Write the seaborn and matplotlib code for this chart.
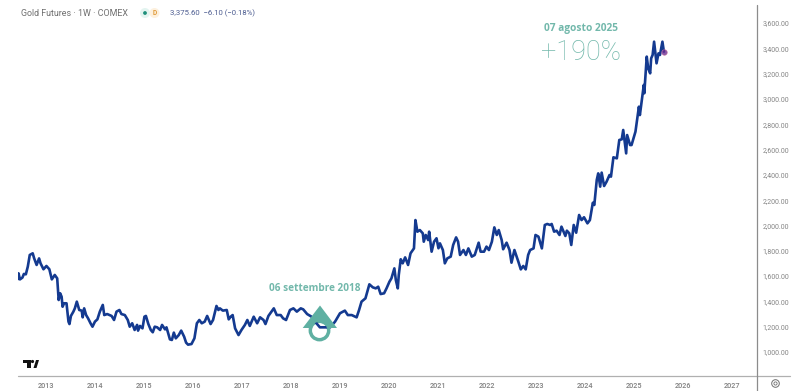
import matplotlib
matplotlib.use('Agg')
import matplotlib.pyplot as plt
from matplotlib.lines import Line2D
from matplotlib.patches import Ellipse, Polygon
import pandas as pd
import seaborn as sns

# valori (anno decimale, prezzo)
years = [2012.42, 2012.44, 2012.47, 2012.52, 2012.55, 2012.59, 2012.63, 2012.67, 2012.73, 2012.76, 2012.81, 2012.86,
         2012.89, 2012.95, 2013.01, 2013.07, 2013.12, 2013.18, 2013.23, 2013.26, 2013.29, 2013.32, 2013.34, 2013.37,
         2013.42, 2013.46, 2013.48, 2013.51, 2013.56, 2013.59, 2013.63, 2013.68, 2013.73, 2013.75, 2013.78, 2013.82,
         2013.86, 2013.91, 2013.95, 2014.00, 2014.05, 2014.10, 2014.16, 2014.19, 2014.25, 2014.34, 2014.39, 2014.44,
         2014.50, 2014.54, 2014.61, 2014.67, 2014.71, 2014.76, 2014.81, 2014.86, 2014.88, 2014.92, 2014.97, 2015.01,
         2015.04, 2015.09, 2015.14, 2015.18, 2015.22, 2015.27, 2015.33, 2015.37, 2015.43, 2015.46, 2015.53, 2015.57,
         2015.61, 2015.65, 2015.71, 2015.76, 2015.82, 2015.86, 2015.90, 2015.97, 2016.03, 2016.08, 2016.13, 2016.18,
         2016.24, 2016.29, 2016.36, 2016.41, 2016.48, 2016.52, 2016.55, 2016.61, 2016.69, 2016.73, 2016.77, 2016.81,
         2016.86, 2016.93, 2016.99, 2017.06, 2017.11, 2017.16, 2017.24, 2017.31, 2017.37, 2017.44, 2017.48, 2017.54,
         2017.65, 2017.71, 2017.79, 2017.84, 2017.90, 2017.98, 2018.05, 2018.12, 2018.20, 2018.25, 2018.33, 2018.42,
         2018.52, 2018.59, 2018.69, 2018.80, 2018.90, 2019.00, 2019.10, 2019.16, 2019.24, 2019.34, 2019.39, 2019.44,
         2019.52, 2019.60, 2019.67, 2019.73, 2019.78, 2019.83, 2019.90, 2019.95, 2020.01, 2020.05, 2020.11, 2020.14,
         2020.18, 2020.20, 2020.24, 2020.28, 2020.33, 2020.39, 2020.44, 2020.51, 2020.54, 2020.58, 2020.63, 2020.69,
         2020.71, 2020.75, 2020.80, 2020.82, 2020.87, 2020.92, 2020.97, 2021.01, 2021.04, 2021.10, 2021.14, 2021.19,
         2021.26, 2021.31, 2021.37, 2021.41, 2021.45, 2021.52, 2021.57, 2021.62, 2021.69, 2021.75, 2021.83, 2021.87,
         2021.94, 2021.99, 2022.04, 2022.10, 2022.15, 2022.20, 2022.24, 2022.30, 2022.33, 2022.40, 2022.46, 2022.50,
         2022.56, 2022.64, 2022.69, 2022.74, 2022.79, 2022.84, 2022.88, 2022.95, 2022.99, 2023.05, 2023.12, 2023.18,
         2023.23, 2023.29, 2023.32, 2023.37, 2023.42, 2023.48, 2023.52, 2023.60, 2023.63, 2023.68, 2023.72, 2023.77,
         2023.82, 2023.88, 2023.93, 2023.98, 2024.05, 2024.10, 2024.16, 2024.19, 2024.24, 2024.27, 2024.31, 2024.34,
         2024.39, 2024.44, 2024.50, 2024.53, 2024.58, 2024.65, 2024.70, 2024.75, 2024.78, 2024.84, 2024.86, 2024.92,
         2024.95, 2025.03, 2025.10, 2025.12, 2025.20, 2025.21, 2025.26, 2025.29, 2025.33, 2025.35, 2025.38, 2025.41,
         2025.46, 2025.50, 2025.53, 2025.58, 2025.61]
prices = [1574, 1622, 1574, 1588, 1617, 1614, 1675, 1767, 1780, 1740, 1688, 1740,
          1701, 1654, 1680, 1654, 1574, 1609, 1582, 1411, 1464, 1437, 1358, 1385,
          1385, 1240, 1221, 1285, 1319, 1345, 1398, 1332, 1327, 1274, 1345, 1292,
          1266, 1227, 1200, 1240, 1258, 1319, 1372, 1292, 1300, 1285, 1253, 1319,
          1332, 1300, 1292, 1253, 1200, 1227, 1174, 1214, 1169, 1206, 1187, 1279,
          1285, 1221, 1174, 1156, 1200, 1195, 1174, 1214, 1179, 1195, 1100, 1095,
          1153, 1108, 1134, 1169, 1121, 1074, 1058, 1063, 1108, 1227, 1253, 1227,
          1240, 1285, 1221, 1253, 1364, 1332, 1345, 1327, 1332, 1258, 1279, 1292,
          1187, 1134, 1174, 1214, 1253, 1206, 1279, 1227, 1274, 1253, 1221, 1285,
          1345, 1292, 1292, 1266, 1253, 1332, 1345, 1319, 1345, 1337, 1300, 1279,
          1227, 1195, 1195, 1195, 1240, 1306, 1327, 1292, 1292, 1274, 1332, 1398,
          1424, 1535, 1511, 1503, 1516, 1458, 1464, 1503, 1556, 1582, 1661, 1569,
          1503, 1609, 1733, 1701, 1748, 1688, 1780, 1819, 2043, 1951, 1964, 1938,
          1872, 1925, 1885, 1951, 1793, 1872, 1899, 1820, 1859, 1806, 1701, 1740,
          1754, 1846, 1906, 1872, 1767, 1806, 1767, 1819, 1754, 1767, 1864, 1793,
          1793, 1833, 1806, 1872, 1985, 1925, 1964, 1885, 1812, 1864, 1806, 1706,
          1806, 1714, 1653, 1680, 1653, 1767, 1806, 1819, 1925, 1912, 1819, 2004,
          2012, 2004, 2012, 1951, 1959, 1925, 1991, 1917, 1959, 1938, 1846, 2004,
          1943, 2083, 2043, 2065, 2017, 2043, 2180, 2162, 2360, 2412, 2307, 2418,
          2312, 2346, 2399, 2386, 2539, 2531, 2676, 2681, 2755, 2570, 2715, 2636,
          2636, 2742, 2939, 2873, 3111, 3045, 3335, 3242, 3203, 3321, 3348, 3453,
          3282, 3361, 3348, 3453, 3374]
year_ticks = [2013, 2014, 2015, 2016, 2017, 2018, 2019, 2020, 2021, 2022, 2023, 2024, 2025, 2026, 2027]
price_ticks = [1000, 1200, 1400, 1600, 1800, 2000, 2200, 2400, 2600, 2800, 3000, 3200, 3400, 3600]
start_year, start_price = 2018.57, 1170
last_year, last_price = 2025.61, 3374

BLUE = '#143a90'
TEAL = '#5fb0a2'
LABEL_TEAL = '#72b8ab'
W, H = 800, 391


def px(x, y):
    # pixel dell'immagine -> coordinate figura
    return (x / W, 1 - y / H)


def dot(x, y, r, **kw):
    fig.add_artist(Ellipse(px(x, y), 2 * r / W, 2 * r / H, transform=fig.transFigure, **kw))


sns.set_theme(style='white')
plt.rcParams['font.family'] = ['Roboto', 'DejaVu Sans']

df = pd.DataFrame({'year': years, 'price': prices})

fig = plt.figure(figsize=(8, 3.91), dpi=100)
ax = fig.add_axes([18 / W, 1 - 375.6 / H, (757 - 18) / W, (375.6 - 5) / H])
sns.lineplot(data=df, x='year', y='price', sort=False, estimator=None, color=BLUE, linewidth=1.9, ax=ax, zorder=2)
ax.set_xlim(2012.43, 2027.51)
ax.set_ylim(813.4, 3743)
ax.set_xlabel('')
ax.set_ylabel('')
sns.despine(ax=ax, left=True, bottom=True, right=True, top=True)

ax.set_xticks(year_ticks)
ax.set_xticklabels([str(y) for y in year_ticks], fontsize=5.2, color='#808080', fontweight='medium')
ax.yaxis.tick_right()
ax.set_yticks(price_ticks)
ax.set_yticklabels([f'{p:,.2f}' for p in price_ticks], fontsize=5.0, color='#858585')
ax.tick_params(axis='x', length=0, pad=4.5)
ax.tick_params(axis='y', length=0, pad=4)

# assi in stile TradingView, escono dal riquadro
fig.add_artist(Line2D([18 / W, 790 / W], [px(0, 375.6)[1]] * 2, color='#b0b0b0', lw=0.9))
fig.add_artist(Line2D([757 / W] * 2, [px(0, 5)[1], 0], color='#8c8c8c', lw=0.9))

# freccia e cerchio sul minimo del 2018
tri = Polygon([px(302.7, 328), px(320, 305.5), px(337, 328)], closed=True, transform=fig.transFigure,
              facecolor=TEAL, edgecolor='none', zorder=3)
ax.add_patch(tri)
ax.scatter([start_year], [start_price], s=175, facecolor='white', edgecolor=TEAL, linewidth=2.5, zorder=4)
window = Ellipse((start_year, start_price), 17 / 49, 17 * 7.905, transform=ax.transData)
inner, = ax.plot(years, prices, color=BLUE, lw=1.9, zorder=5)
inner.set_clip_path(window)

# punto finale
ax.scatter([last_year], [last_price], s=16, color='#6a2c91', alpha=0.8, edgecolor='#c06a9a', linewidth=0.5, zorder=6)

ax.text(2018.49, 1505, '06 settembre 2018', color=LABEL_TEAL, fontsize=7.2, fontweight='bold', ha='center', va='center',
        family=['Open Sans', 'DejaVu Sans'])
fig.text(581 / W, px(0, 28)[1], '07 agosto 2025', color=LABEL_TEAL, fontsize=7.3, fontweight='bold', ha='center', va='center',
         family=['Open Sans', 'DejaVu Sans'])
fig.text(581.5 / W, px(0, 53)[1], '+190%', color=LABEL_TEAL, fontsize=19.5, fontweight='light', ha='center', va='center',
         family=['Roboto', 'DejaVu Sans'])

# intestazione
fig.text(21 / W, px(0, 13)[1], 'Gold Futures · 1W · COMEX', color='#6e6e6e', fontsize=6.4, va='center')
fig.text(170.5 / W, px(0, 13)[1], '3,375.60  −6.10 (−0.18%)', color='#4c5c90', fontsize=5.6, va='center')
dot(145, 13, 5, facecolor='#e3f4f0', edgecolor='none')
dot(154.5, 13, 5, facecolor='#fdf0dd', edgecolor='none')
dot(145, 13, 1.9, facecolor='#1e8f7a', edgecolor='none')
fig.text(154.5 / W, px(0, 13)[1], 'D', color='#e09a3a', fontsize=4.8, fontweight='bold', ha='center', va='center')

# logo TradingView
logo = [[(22.5, 360), (30.5, 360), (30.5, 368), (26.5, 368), (26.5, 363), (22.5, 363)],
        [(33.5, 368), (36, 360), (39, 360), (36.5, 368)]]
for shape in logo:
    fig.add_artist(Polygon([px(*p) for p in shape], closed=True, transform=fig.transFigure,
                           facecolor='#111111', edgecolor='none'))
dot(32.5, 361.5, 1.6, facecolor='#111111', edgecolor='none')

# icona in basso a destra
dot(775.5, 383.5, 3.8, facecolor='none', edgecolor='#707070', lw=0.7)
dot(775.5, 383.5, 1.6, facecolor='none', edgecolor='#707070', lw=0.6)

fig.savefig('out.png', dpi=100)
